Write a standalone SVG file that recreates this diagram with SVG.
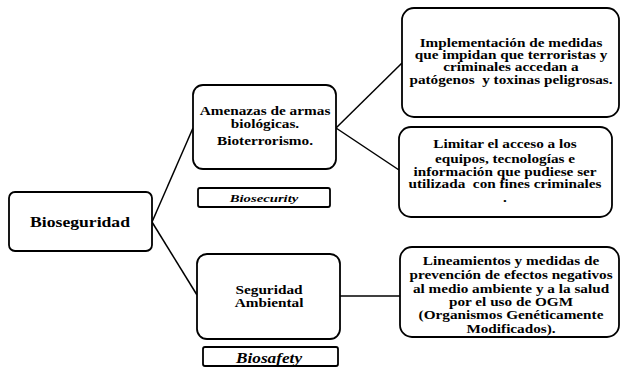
<svg xmlns="http://www.w3.org/2000/svg" width="621" height="367" viewBox="0 0 621 367">
<style>
.box{fill:#fff;stroke:#000;stroke-width:1.8}
.t{font-family:"Liberation Serif","Times New Roman",serif;font-weight:bold;fill:#000;text-anchor:middle}
.it{font-style:italic}
.c{stroke:#000;stroke-width:1.5;fill:none}
</style>
<rect width="621" height="367" fill="#fff"/>
<g id="connectors">
<line class="c" x1="152" y1="222" x2="193" y2="128"/>
<line class="c" x1="152" y1="222" x2="197" y2="295"/>
<line class="c" x1="336" y1="128" x2="402" y2="63"/>
<line class="c" x1="336" y1="128" x2="399" y2="170"/>
<line class="c" x1="340" y1="296" x2="400" y2="296"/>
</g>
<g id="bioseguridad">
<rect class="box" x="9" y="192" width="143" height="59" rx="6"/>
<g transform="translate(80 0) scale(1.26 1)"><text class="t" x="0" y="227" font-size="14">Bioseguridad</text></g>
</g>
<g id="amenazas">
<rect class="box" x="193" y="85" width="143" height="84" rx="10"/>
<g transform="translate(265 0) scale(1.33 1)" font-size="11.5">
<text class="t" x="0" y="115">Amenazas  de armas</text>
<text class="t" x="0" y="128">biológicas.</text>
<text class="t" x="0" y="145">Bioterrorismo.</text>
</g>
</g>
<g id="biosecurity">
<rect class="box" x="198" y="188" width="132" height="19" rx="2"/>
<g transform="translate(264 0) scale(1.4 1)"><text class="t it" x="0" y="202" font-size="10.5">Biosecurity</text></g>
</g>
<g id="seguridad-ambiental">
<rect class="box" x="197" y="254" width="143" height="85" rx="10"/>
<g transform="translate(269 0) scale(1.33 1)" font-size="11.5">
<text class="t" x="0" y="294">Seguridad</text>
<text class="t" x="0" y="307">Ambiental</text>
</g>
</g>
<g id="biosafety">
<rect class="box" x="203" y="347" width="135" height="19" rx="2"/>
<g transform="translate(269 0) scale(1.15 1)"><text class="t it" x="0" y="363" font-size="15">Biosafety</text></g>
</g>
<g id="implementacion">
<rect class="box" x="402" y="8" width="217" height="109" rx="12"/>
<g transform="translate(511 0) scale(1.27 1)" font-size="12">
<text class="t" x="0" y="47">Implementación de medidas</text>
<text class="t" x="0" y="59">que impidan que terroristas y</text>
<text class="t" x="0" y="71">criminales accedan a</text>
<text class="t" x="0" y="84" xml:space="preserve">patógenos  y toxinas peligrosas.</text>
</g>
</g>
<g id="limitar">
<rect class="box" x="399" y="127" width="213" height="90" rx="12"/>
<g transform="translate(505 0) scale(1.27 1)" font-size="12">
<text class="t" x="0" y="148">Limitar el acceso a los</text>
<text class="t" x="0" y="163">equipos, tecnologías e</text>
<text class="t" x="0" y="176">información que pudiese ser</text>
<text class="t" x="0" y="188" xml:space="preserve">utilizada  con fines criminales</text>
<text class="t" x="0" y="202">.</text>
</g>
</g>
<g id="lineamientos">
<rect class="box" x="400" y="247" width="219" height="90" rx="12"/>
<g transform="translate(511 0) scale(1.27 1)" font-size="12">
<text class="t" x="0" y="265">Lineamientos y medidas de</text>
<text class="t" x="0" y="279">prevención de efectos negativos</text>
<text class="t" x="0" y="293">al medio ambiente y a la salud</text>
<text class="t" x="0" y="306">por el uso de OGM</text>
<text class="t" x="0" y="319">(Organismos Genéticamente</text>
<text class="t" x="0" y="333">Modificados).</text>
</g>
</g>
</svg>
